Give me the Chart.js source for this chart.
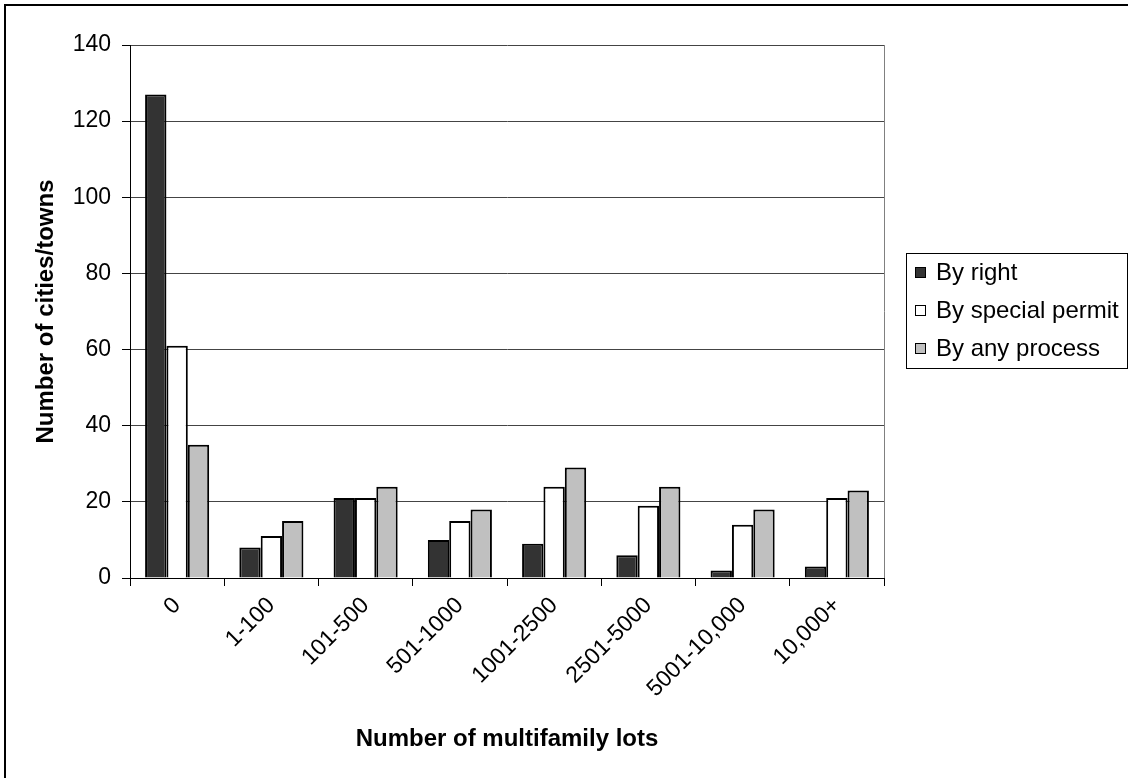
<!DOCTYPE html>
<html>
<head>
<meta charset="utf-8">
<script src="https://cdn.jsdelivr.net/npm/chart.js@4.4.1/dist/chart.umd.min.js"></script>
<style>
  html, body { margin: 0; padding: 0; background: #fff; }
  canvas { display: block; }
</style>
</head>
<body>
<canvas id="chart" width="1128" height="778"></canvas>
<script>
// Multifamily lot capacity by approval process
const categories = ['0', '1-100', '101-500', '501-1000', '1001-2500', '2501-5000', '5001-10,000', '10,000+'];
const byRight = [127, 8, 21, 10, 9, 6, 2, 3];
const bySpecialPermit = [61, 11, 21, 15, 24, 19, 14, 21];
const byAnyProcess = [35, 15, 24, 18, 29, 24, 18, 23];
const yTickValues = [0, 20, 40, 60, 80, 100, 120, 140];
const seriesNames = ['By right', 'By special permit', 'By any process'];
const seriesColors = ['#333333', '#ffffff', '#c0c0c0'];
const yTitle = 'Number of cities/towns';
const xTitle = 'Number of multifamily lots';

const FONT = "'Liberation Sans', Arial, Helvetica, sans-serif";

// Thin frame along the top and left edges of the picture
const framePlugin = {
  id: 'frame',
  beforeDraw(chart) {
    const ctx = chart.ctx;
    ctx.save();
    ctx.fillStyle = '#fff';
    ctx.fillRect(0, 0, chart.width, chart.height);
    ctx.strokeStyle = '#000';
    ctx.lineWidth = 2;
    ctx.beginPath();
    ctx.moveTo(5, chart.height);
    ctx.lineTo(5, 5);
    ctx.lineTo(chart.width, 5);
    ctx.stroke();
    ctx.restore();
  }
};

// Grey border on the right side of the plot area, axis titles and boxed legend
const decorPlugin = {
  id: 'decor',
  afterDraw(chart) {
    const ctx = chart.ctx;
    const a = chart.chartArea;
    ctx.save();
    ctx.strokeStyle = '#808080';
    ctx.lineWidth = 1;
    ctx.beginPath();
    ctx.moveTo(Math.round(a.right) + 0.5, a.top);
    ctx.lineTo(Math.round(a.right) + 0.5, a.bottom);
    ctx.stroke();

    // axis titles
    ctx.fillStyle = '#000';
    ctx.font = 'bold 24px ' + FONT;
    ctx.textAlign = 'center';
    ctx.textBaseline = 'middle';
    ctx.fillText(xTitle, (a.left + a.right) / 2, 739);
    ctx.save();
    ctx.translate(46, (a.top + a.bottom) / 2);
    ctx.rotate(-Math.PI / 2);
    ctx.fillText(yTitle, 0, 0);
    ctx.restore();

    // legend
    const lx = 906, ly = 253, lw = 221, lh = 115;
    ctx.strokeStyle = '#000';
    ctx.lineWidth = 1;
    ctx.strokeRect(lx + 0.5, ly + 0.5, lw, lh);
    ctx.font = '24px ' + FONT;
    ctx.textAlign = 'left';
    ctx.textBaseline = 'middle';
    chart.data.datasets.forEach((ds, i) => {
      const cy = ly + 19 + i * 38;
      ctx.fillStyle = ds.backgroundColor;
      ctx.fillRect(915, cy - 5, 11, 11);
      ctx.strokeStyle = '#000';
      ctx.strokeRect(915.5, cy - 4.5, 10, 10);
      ctx.fillStyle = '#000';
      ctx.fillText(ds.label, 936, cy + 1);
    });
    ctx.restore();
  }
};

const seriesValues = [byRight, bySpecialPermit, byAnyProcess];

new Chart(document.getElementById('chart'), {
  type: 'bar',
  data: {
    labels: categories,
    datasets: seriesNames.map((name, i) => ({
      label: name,
      data: seriesValues[i],
      backgroundColor: seriesColors[i],
      borderColor: '#000',
      borderWidth: 2,
      barPercentage: 1.0,
      categoryPercentage: 0.68
    }))
  },
  options: {
    responsive: false,
    animation: false,
    devicePixelRatio: 1,
    layout: { padding: { top: 45, right: 244, left: 0, bottom: 0 } },
    plugins: {
      legend: { display: false },
      tooltip: { enabled: false }
    },
    scales: {
      x: {
        afterFit(scale) { scale.height = 200; },
        grid: {
          drawOnChartArea: false,
          offset: true,
          tickLength: 8,
          tickColor: '#000',
          lineWidth: 1
        },
        border: { color: '#000', width: 1 },
        ticks: {
          minRotation: 45,
          maxRotation: 45,
          color: '#000',
          padding: 6,
          font: { family: FONT, size: 23 }
        }
      },
      y: {
        min: 0,
        max: 140,
        afterFit(scale) { scale.width = 130; },
        afterBuildTicks(scale) { scale.ticks = yTickValues.map(v => ({ value: v })); },
        grid: {
          color: '#444',
          lineWidth: 1,
          tickLength: 8,
          tickColor: '#000'
        },
        border: { color: '#000', width: 1 },
        ticks: {
          color: '#000',
          padding: 11,
          font: { family: FONT, size: 23 }
        }
      }
    }
  },
  plugins: [framePlugin, decorPlugin]
});
</script>
</body>
</html>
